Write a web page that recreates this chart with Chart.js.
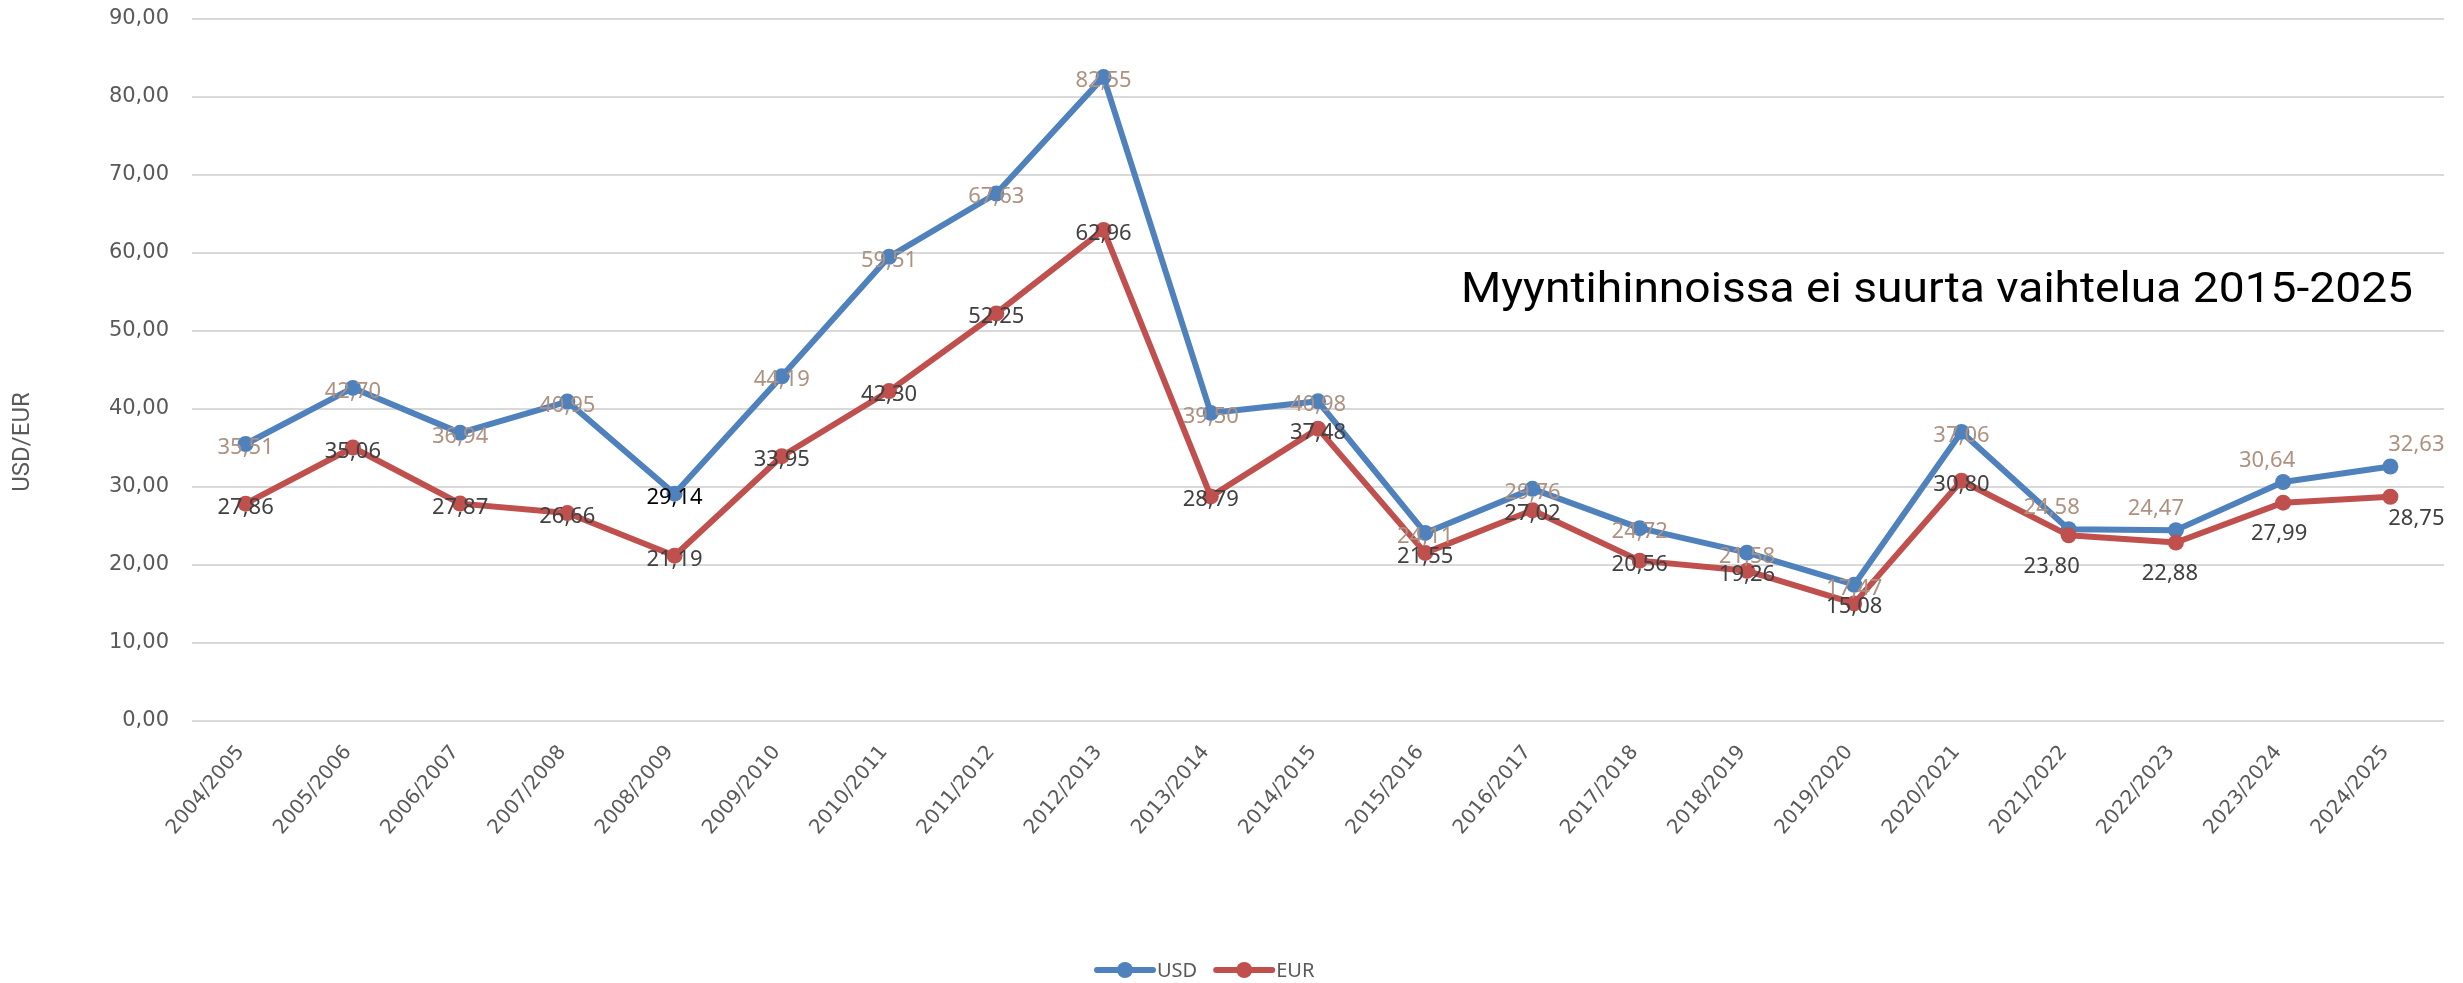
<!DOCTYPE html>
<html>
<head>
<meta charset="utf-8">
<script src="https://cdn.jsdelivr.net/npm/chart.js@4/dist/chart.umd.min.js"></script>
<style>
  html, body { margin: 0; padding: 0; background: #fff; }
  #wrap { width: 2463px; height: 983px; position: relative; }
</style>
</head>
<body>
<div id="wrap"><canvas id="c"></canvas></div>
<script>
const categories = ['2004/2005', '2005/2006', '2006/2007', '2007/2008', '2008/2009', '2009/2010', '2010/2011',
  '2011/2012', '2012/2013', '2013/2014', '2014/2015', '2015/2016', '2016/2017', '2017/2018', '2018/2019',
  '2019/2020', '2020/2021', '2021/2022', '2022/2023', '2023/2024', '2024/2025'];
const usdValues = [35.51, 42.70, 36.94, 40.95, 29.14, 44.19, 59.51, 67.63, 82.55, 39.50, 40.98,
  24.11, 29.76, 24.72, 21.58, 17.47, 37.06, 24.58, 24.47, 30.64, 32.63];
const eurValues = [27.86, 35.06, 27.87, 26.66, 21.19, 33.95, 42.30, 52.25, 62.96, 28.79, 37.48,
  21.55, 27.02, 20.56, 19.26, 15.08, 30.80, 23.80, 22.88, 27.99, 28.75];
const yMin = 0, yMax = 90, yStep = 10;
const chartTitle = 'Myyntihinnoissa ei suurta vaihtelua 2015-2025';
const axisTitle = 'USD/EUR';

// label offsets from the point, px [dx, dy]
const usdLabelShift = categories.map((c, i) => i < 17 ? [0, 2] : [[-17, -23], [-20, -23], [-16, -23], [26, -23]][i - 17]);
const eurLabelShift = categories.map((c, i) => i < 17 ? [0, 2] : [[-17, 30], [-6, 29], [-4, 29], [26, 20]][i - 17]);

const BLUE = '#4F81BD', RED = '#C0504D';
const fmt = v => v.toFixed(2).replace('.', ',');

const extras = {
  id: 'extras',
  afterDatasetsDraw(chart) {
    const ctx = chart.ctx;
    ctx.save();
    ctx.font = '22px "Noto Sans"';
    ctx.textAlign = 'center';
    ctx.textBaseline = 'alphabetic';
    const sets = [[1, eurValues, eurLabelShift], [0, usdValues, usdLabelShift]];
    sets.forEach(([di, vals, shift]) => {
      const meta = chart.getDatasetMeta(di);
      meta.data.forEach((pt, i) => {
        if (di === 0) ctx.fillStyle = i === 4 ? '#000000' : '#AE9181';
        else ctx.fillStyle = '#404040';
        ctx.fillText(fmt(vals[i]), pt.x + shift[i][0], pt.y + shift[i][1] + 8);
      });
    });
    ctx.restore();
  },
  afterDraw(chart) {
    const ctx = chart.ctx;
    const area = chart.chartArea;
    ctx.save();
    // chart title text inside plot
    ctx.font = '42px Roboto';
    const w = ctx.measureText(chartTitle).width;
    const targetW = 952;
    ctx.translate(area.right - 31 - targetW, 302);
    ctx.scale(targetW / w, 1);
    ctx.fillStyle = '#000';
    ctx.textAlign = 'left';
    ctx.fillText(chartTitle, 0, 0);
    ctx.restore();

    // y axis title
    ctx.save();
    ctx.translate(23, 442);
    ctx.rotate(-Math.PI / 2);
    ctx.font = '24px Roboto';
    ctx.fillStyle = '#595959';
    ctx.textAlign = 'center';
    ctx.textBaseline = 'middle';
    ctx.fillText(axisTitle, 0, 0);
    ctx.restore();

    // legend
    ctx.save();
    ctx.font = '20px "Noto Sans"';
    ctx.textBaseline = 'middle';
    const ly = 970;
    let lx = 1097;
    chart.data.datasets.forEach(ds => {
      ctx.strokeStyle = ds.borderColor;
      ctx.lineWidth = 6;
      ctx.lineCap = 'round';
      ctx.beginPath();
      ctx.moveTo(lx, ly);
      ctx.lineTo(lx + 56, ly);
      ctx.stroke();
      ctx.fillStyle = ds.borderColor;
      ctx.beginPath();
      ctx.arc(lx + 28, ly, 8, 0, Math.PI * 2);
      ctx.fill();
      ctx.fillStyle = '#595959';
      ctx.fillText(ds.label, lx + 60, ly + 1);
      lx += 60 + ctx.measureText(ds.label).width + 19;
    });
    ctx.restore();
  }
};

new Chart(document.getElementById('c'), {
  type: 'line',
  data: {
    labels: categories,
    datasets: [
      { label: 'USD', data: usdValues, borderColor: BLUE, backgroundColor: BLUE, order: 1 },
      { label: 'EUR', data: eurValues, borderColor: RED, backgroundColor: RED, order: 0 }
    ]
  },
  options: {
    responsive: true,
    maintainAspectRatio: false,
    devicePixelRatio: 1,
    animation: false,
    elements: {
      line: { borderWidth: 6, tension: 0, borderCapStyle: 'round', borderJoinStyle: 'round' },
      point: { radius: 8, borderWidth: 0, hoverRadius: 8 }
    },
    layout: { padding: { top: 19, right: 19, bottom: 0, left: 0 } },
    plugins: { legend: { display: false }, tooltip: { enabled: false }, title: { display: false } },
    scales: {
      x: {
        offset: true,
        grid: { display: false },
        border: { display: false },
        ticks: {
          color: '#595959',
          font: { family: 'DejaVu Sans', size: 20 },
          minRotation: 50, maxRotation: 50,
          padding: 12,
          labelOffset: -5,
          autoSkip: false
        },
        afterFit(scale) { scale.height = 262; }
      },
      y: {
        min: yMin, max: yMax,
        grid: { color: '#D9D9D9', lineWidth: 2, drawTicks: true, tickLength: 23, tickColor: 'rgba(0,0,0,0)' },
        border: { display: false },
        ticks: {
          stepSize: yStep,
          color: '#595959',
          font: { family: 'DejaVu Sans', size: 21 },
          padding: 0,
          callback: v => fmt(v)
        },
        afterFit(scale) { scale.width = 192; }
      }
    }
  },
  plugins: [extras]
});
</script>
</body>
</html>
